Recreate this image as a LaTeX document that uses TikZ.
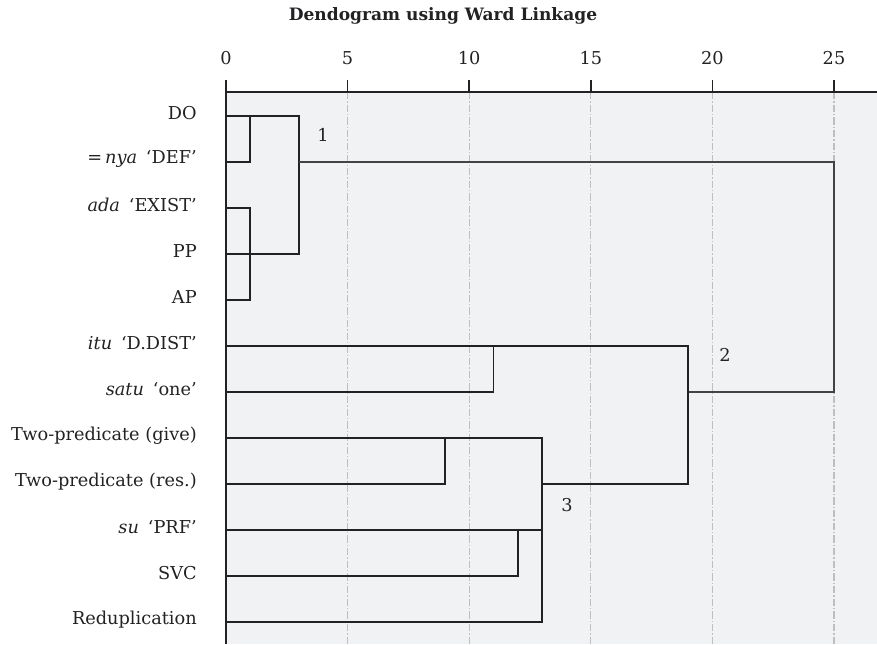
\documentclass[tikz,border=0pt]{standalone}
\usepackage{fontspec}
\setmainfont{DejaVu Serif}
\usetikzlibrary{positioning}
\definecolor{panelgray}{RGB}{241,242,244}
\definecolor{inkdark}{RGB}{34,34,36}

\begin{document}
\begin{tikzpicture}[
    x=0.75pt, y=-0.75pt,
    font=\fontsize{13.3}{15}\selectfont,
    leaf/.style={anchor=east, inner sep=0pt, text=inkdark, yshift=2pt},
    ticklabel/.style={inner sep=0pt, text=inkdark},
    cluster/.style={inner sep=0pt, text=inkdark},
    link/.style={draw=inkdark, line width=1.3pt},
    thinlink/.style={draw=inkdark!85, line width=0.8pt},
    grid line/.style={draw=black!25, line width=0.8pt,
        dash pattern=on 5.5pt off 1.6pt on 0.8pt off 1.6pt},
]
\def\u{24.32}
\useasboundingbox (0,0) rectangle (877,644);
\fill[panelgray] (226,92) rectangle (877,644);

\node[font=\fontsize{12.8}{15}\selectfont\bfseries, text=inkdark] (title) at (443,16)
    {Dendogram using Ward Linkage};

\foreach \v in {5,10,...,25}
    \draw[grid line] ({226+\v*\u},92) -- ({226+\v*\u},644);
\foreach \v in {0,5,...,25} {
    \node[ticklabel] (t\v) at ({226+\v*\u},58) {\v};
    \draw[link] ({226+\v*\u},80) -- ({226+\v*\u},92);
}
\draw[link] (226,92) -- (877,92);
\draw[link] (226,80) -- (226,644);

\node[leaf] (do)    at (197,116) {DO};
\node[leaf] (nya)   at (197,162) {=\,\textit{nya}\enspace‘DEF’};
\node[leaf] (ada)   at (197,208) {\textit{ada}\enspace‘EXIST’};
\node[leaf] (pp)    at (197,254) {PP};
\node[leaf] (ap)    at (197,300) {AP};
\node[leaf] (itu)   at (197,346) {\textit{itu}\enspace‘D.DIST’};
\node[leaf] (satu)  at (197,392) {\textit{satu}\enspace‘one’};
\node[leaf] (give)  at (197,438) {Two-predicate (give)};
\node[leaf] (res)   at (197,484) {Two-predicate (res.)};
\node[leaf] (su)    at (197,530) {\textit{su}\enspace‘PRF’};
\node[leaf] (svc)   at (197,576) {SVC};
\node[leaf] (redup) at (197,622) {Reduplication};

\foreach \n/\y in {do/116,nya/162,ada/208,pp/254,ap/300,itu/346,
                   satu/392,give/438,res/484,su/530,svc/576,redup/622}
    \coordinate (\n0) at (226,\y);

\coordinate (a)  at ({226+1*\u},116);
\coordinate (b)  at ({226+1*\u},208);
\coordinate (c)  at ({226+3*\u},116);
\coordinate (c2) at ({226+3*\u},162);
\coordinate (d)  at ({226+11*\u},346);
\coordinate (e)  at ({226+9*\u},438);
\coordinate (f)  at ({226+12*\u},530);
\coordinate (g)  at ({226+13*\u},438);
\coordinate (g2) at ({226+13*\u},484);
\coordinate (h)  at ({226+19*\u},346);
\coordinate (h2) at ({226+19*\u},392);
\coordinate (k)  at ({226+25*\u},162);

\draw[link] (do0) -- (c) |- (pp0);
\draw[link] (a) |- (nya0);
\draw[link] (ada0) -- (b) |- (ap0);
\draw[thinlink] (c2) -- (k) |- (h2);
\draw[link] (itu0) -- (h) |- (g2);
\draw[link] (d) |- (satu0);
\draw[link] (give0) -- (g) |- (redup0);
\draw[link] (e) |- (res0);
\draw[link] (su0) -- (su0 -| g);
\draw[link] (f) |- (svc0);

\node[cluster] (c1) at (323,135) {1};
\node[cluster] (c2l) at (725,355) {2};
\node[cluster] (c3) at (567,505) {3};
\end{tikzpicture}
\end{document}
